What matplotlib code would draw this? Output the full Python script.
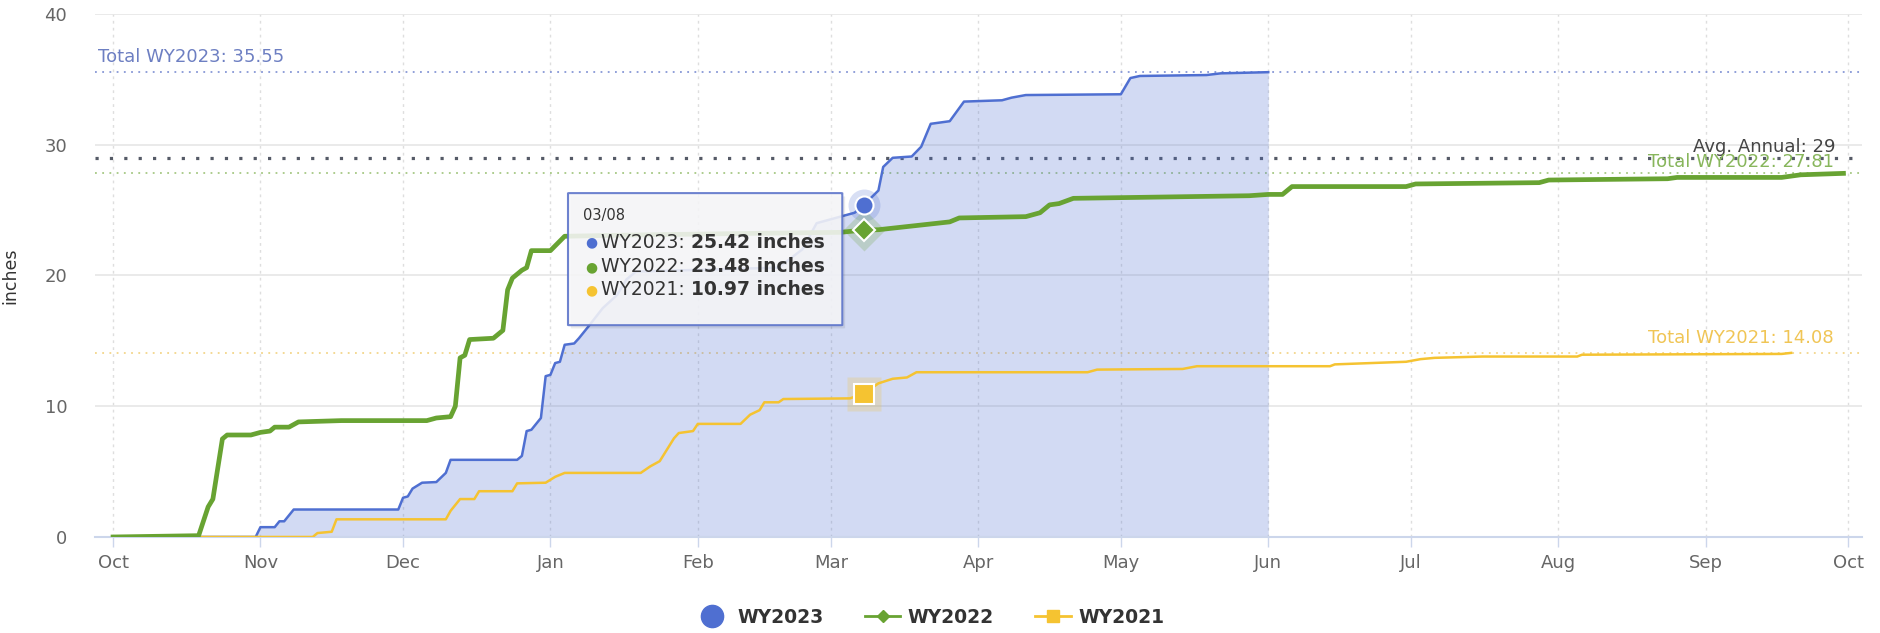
import numpy as np
import matplotlib.pyplot as plt
import matplotlib.dates as mdates
from matplotlib.lines import Line2D
from matplotlib.patches import FancyBboxPatch

# cumulative precipitation, keyed by day of the water year (day 0 = Oct 1)
wy2023_days = [0, 30, 31, 34, 35, 36, 38, 60, 61, 62, 63, 65, 68, 70, 71, 85, 86, 87, 88, 90,
               91, 92, 93, 94, 95, 97, 98, 100, 103, 106, 108, 110, 140, 145, 148, 153, 156, 158,
               161, 162, 164, 168, 170, 172, 176, 179, 187, 189, 192, 212, 214, 216, 230, 233, 243]
wy2023_vals = [0, 0, 0.75, 0.75, 1.2, 1.2, 2.1, 2.1, 3.0, 3.1, 3.7, 4.15, 4.2, 4.9, 5.9, 5.9, 6.2,
               8.1, 8.2, 9.1, 12.3, 12.4, 13.3, 13.4, 14.7, 14.8, 15.2, 16.1, 17.5, 18.5, 19.7, 20.3,
               20.6, 22.0, 24.0, 24.5, 24.8, 25.42, 26.5, 28.3, 29.0, 29.1, 29.85, 31.6, 31.8, 33.3,
               33.4, 33.6, 33.8, 33.86, 35.1, 35.26, 35.33, 35.46, 35.55]

wy2022_days = [0, 18, 20, 21, 23, 24, 29, 31, 33, 34, 37, 39, 48, 66, 68, 71, 72, 73, 74, 75, 80,
               82, 83, 84, 86, 87, 88, 92, 95, 110, 130, 153, 158, 161, 166, 176, 178, 192, 195, 197,
               199, 202, 239, 243, 246, 248, 272, 274, 300, 302, 327, 329, 351, 355, 364]
wy2022_vals = [0, 0.1, 2.3, 2.9, 7.5, 7.8, 7.8, 8.0, 8.1, 8.4, 8.4, 8.8, 8.9, 8.9, 9.1, 9.2, 10.0,
               13.7, 13.9, 15.1, 15.2, 15.8, 18.9, 19.8, 20.4, 20.6, 21.9, 21.9, 23.0, 23.1, 23.2,
               23.3, 23.48, 23.5, 23.7, 24.1, 24.4, 24.5, 24.8, 25.4, 25.5, 25.9, 26.1, 26.2, 26.2,
               26.8, 26.8, 27.0, 27.1, 27.3, 27.4, 27.5, 27.5, 27.7, 27.81]

wy2021_days = [0, 42, 43, 46, 47, 70, 71, 73, 76, 77, 84, 85, 91, 93, 95, 111, 113, 115, 118, 119,
               122, 123, 132, 134, 136, 137, 140, 141, 155, 158, 161, 164, 167, 169, 205, 207, 225,
               228, 256, 257, 272, 275, 278, 288, 308, 309, 351, 353]
wy2021_vals = [0, 0, 0.3, 0.4, 1.35, 1.35, 2.0, 2.9, 2.9, 3.5, 3.5, 4.1, 4.15, 4.6, 4.9, 4.9, 5.4,
               5.8, 7.55, 7.95, 8.1, 8.65, 8.65, 9.35, 9.7, 10.3, 10.3, 10.55, 10.6, 10.97, 11.75,
               12.1, 12.2, 12.6, 12.6, 12.8, 12.85, 13.06, 13.06, 13.2, 13.4, 13.6, 13.7, 13.8, 13.8,
               13.94, 14.0, 14.08]

totals = {"WY2023": 35.55, "WY2022": 27.81, "WY2021": 14.08}
avg_annual = 29
hover_day = 158
hover_label = "03/08"

BLUE = "#4f6fd1"
GREEN = "#68a332"
YELLOW = "#f5c331"

base = np.datetime64("2022-10-01")
def to_dates(days):
    return base + np.array(days, dtype="timedelta64[D]")

x23, x22, x21 = to_dates(wy2023_days), to_dates(wy2022_days), to_dates(wy2021_days)
base_num = mdates.date2num(base)

fig = plt.figure(figsize=(18.81, 6.33), dpi=100)
ax = fig.add_axes([0.0505, 0.1517, 0.9394, 0.8262])

# gridlines and axis
ax.set_ylim(0, 40)
ax.set_xlim(base_num - 3.8, base_num + 367.9)
ax.set_yticks([0, 10, 20, 30, 40])
ax.xaxis.set_major_locator(mdates.MonthLocator())
ax.xaxis.set_major_formatter(mdates.DateFormatter("%b"))
ax.grid(axis="y", color="#e6e6e6", lw=1.2)
ax.grid(axis="x", color="#dedede", lw=1, ls=(0, (2, 3)))
ax.set_axisbelow(True)
for s in ["top", "right", "left"]:
    ax.spines[s].set_visible(False)
ax.spines["bottom"].set_color("#ccd6eb")
ax.spines["bottom"].set_linewidth(1.5)
ax.tick_params(axis="y", length=0, pad=20, labelsize=13, labelcolor="#666666")
ax.tick_params(axis="x", length=7, width=1, color="#ccd6eb", pad=5, labelsize=13, labelcolor="#666666")
ax.set_ylabel("inches", fontsize=12.5, color="#333333", labelpad=18)

# reference lines
ax.axhline(totals["WY2023"], color="#8797d6", lw=1.3, ls=(0, (1, 3)))
ax.axhline(avg_annual, color="#555a66", lw=2.3, ls=(0, (1, 3.5)))
ax.axhline(totals["WY2022"], color="#a6c884", lw=1.3, ls=(0, (1, 3)))
ax.axhline(totals["WY2021"], color="#f3d68a", lw=1.3, ls=(0, (1, 3)))

ax.text(base_num - 3.2, totals["WY2023"] + 0.45, f"Total WY2023: {totals['WY2023']}",
        color="#6d7fc2", fontsize=13, va="bottom", ha="left")
ax.text(base_num + 362.4, avg_annual + 0.15, f"Avg. Annual: {avg_annual}",
        color="#444444", fontsize=13, va="bottom", ha="right")
ax.text(base_num + 362.0, totals["WY2022"] + 0.2, f"Total WY2022: {totals['WY2022']}",
        color="#88b65c", fontsize=13, va="bottom", ha="right")
ax.text(base_num + 362.0, totals["WY2021"] + 0.45, f"Total WY2021: {totals['WY2021']}",
        color="#f0c555", fontsize=13, va="bottom", ha="right")

# series
ax.axhline(0, color="#e9d27e", lw=1.8, zorder=2)
ax.fill_between(x23, 0, wy2023_vals, color=BLUE, alpha=0.25, lw=0, zorder=2)
ax.plot(x23, wy2023_vals, color=BLUE, lw=1.8, zorder=3)
ax.plot(x22, wy2022_vals, color=GREEN, lw=3.4, zorder=4, solid_joinstyle="round")
ax.plot(x21, wy2021_vals, color=YELLOW, lw=1.8, zorder=3)

# hovered points
hx = base_num + hover_day
h23 = wy2023_vals[wy2023_days.index(hover_day)]
h22 = wy2022_vals[wy2022_days.index(hover_day)]
h21 = wy2021_vals[wy2021_days.index(hover_day)]
for yv, mk, col, ms in [(h23, "o", BLUE, 13), (h22, "D", GREEN, 11), (h21, "s", YELLOW, 14)]:
    ax.plot(hx, yv, marker=mk, ms=ms + 10, color=col, alpha=0.22, mec="none", zorder=5)
    ax.plot(hx, yv, marker=mk, ms=ms, color=col, mec="white", mew=1.5, zorder=6)

# tooltip
x0, x1, y0, y1 = base_num + 95.7, base_num + 153.4, 16.2, 26.3
ax.add_patch(FancyBboxPatch((x0 + 0.6, y0 - 0.25), x1 - x0, y1 - y0,
                            boxstyle="round,pad=0,rounding_size=0.3", fc="#000000", alpha=0.08,
                            ec="none", zorder=7, mutation_aspect=0.07))
ax.add_patch(FancyBboxPatch((x0, y0), x1 - x0, y1 - y0,
                            boxstyle="round,pad=0,rounding_size=0.3", fc="#f7f7f9", alpha=0.88,
                            ec="#5a72c9", lw=1.5, zorder=8, mutation_aspect=0.07))
ax.text(base_num + 98.9, 24.6, hover_label, fontsize=10.5, color="#333333", va="center", zorder=9)
rows = [("WY2023", h23, BLUE, 22.56), ("WY2022", h22, GREEN, 20.65), ("WY2021", h21, YELLOW, 18.9)]
for name, val, col, yrow in rows:
    ax.text(base_num + 99.4, yrow, "\u25cf", color=col, fontsize=10, va="center", zorder=9)
    t = ax.text(base_num + 102.6, yrow, f"{name}: ", fontsize=13.5, color="#333333",
                va="center", zorder=9)
    ax.annotate(f"{val:.2f} inches", xy=(1, 0.5), xycoords=t, va="center", ha="left",
                fontsize=13.5, fontweight="bold", color="#333333", zorder=9)

# legend
handles = [
    Line2D([], [], ls="none", marker="o", ms=16, color=BLUE),
    Line2D([], [], color=GREEN, lw=2, marker="D", ms=6),
    Line2D([], [], color=YELLOW, lw=2, marker="s", ms=9),
]
fig.legend(handles, ["WY2023", "WY2022", "WY2021"], loc="center", bbox_to_anchor=(0.494, 0.025),
           ncol=3, frameon=False, prop={"weight": "bold", "size": 13.5}, labelcolor="#333333",
           handlelength=1.9, handletextpad=0.4, columnspacing=2.2)

fig.savefig("out.png", dpi=100)
